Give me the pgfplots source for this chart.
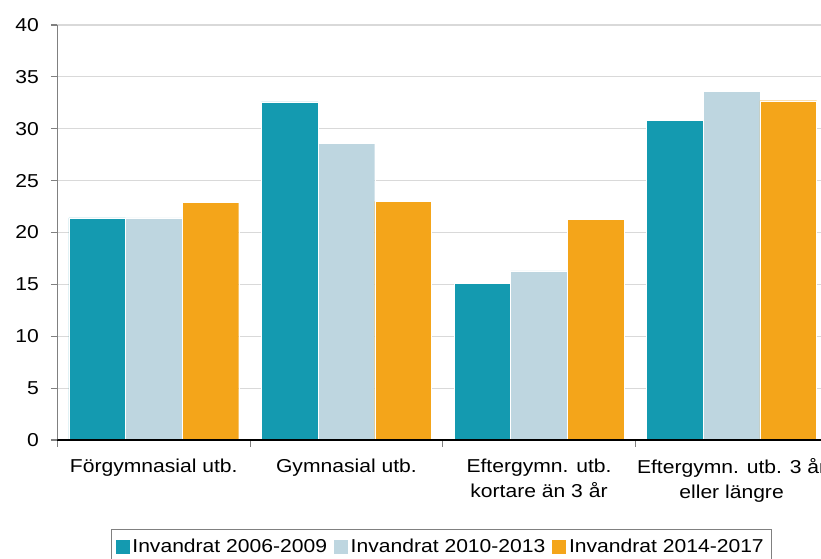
\documentclass[border=0pt]{standalone}
\usepackage{fontspec}
\setmainfont{Liberation Sans}[FakeStretch=1.13]
\usepackage{pgfplots}
\pgfplotsset{compat=1.18}
\definecolor{cteal}{RGB}{20,154,176}
\definecolor{clight}{RGB}{190,214,224}
\definecolor{corange}{RGB}{244,165,26}
\definecolor{cgrid}{RGB}{217,217,217}
\definecolor{caxis}{RGB}{128,128,128}
\newcommand{\lbl}{\fontsize{14}{18.75}\selectfont}
\begin{document}
\begin{tikzpicture}
\begin{axis}[
  at={(0pt,0pt)}, anchor=south west,
  scale only axis, width=577.8pt, height=311.25pt,
  xmin=-0.5, xmax=3.5, ymin=0, ymax=40,
  axis lines*=left,
  x axis line style={black, line width=0.9pt},
  y axis line style={caxis, line width=1.3pt},
  ytick={0,5,...,40},
  xtick={-0.5,0.5,1.5,2.5,3.5},
  xticklabels={},
  extra x ticks={0,1,2,3},
  extra x tick labels={Förgymnasial utb., Gymnasial utb., Eftergymn. utb.\\kortare än 3 år, Eftergymn. utb. 3 år\\eller längre},
  extra x tick style={major tick length=0pt, xticklabel style={align=center, yshift=-10.5pt}},
  tick align=outside,
  major tick length=5pt,
  every major x tick/.append style={caxis, line width=0.8pt},
  every major y tick/.append style={caxis, line width=0.9pt},
  ymajorgrids,
  grid style={cgrid, line width=0.8pt},
  /pgf/number format/assume math mode=true,
  ticklabel style={font=\lbl},
  yticklabel style={xshift=-5.5pt},
  legend style={at={(0.06944,-0.2145)}, anchor=north west, draw=caxis, line width=0.8pt,
    legend columns=3, font=\lbl, inner xsep=3pt, inner ysep=6pt,
    nodes={inner xsep=2.6pt, inner ysep=1pt},
    /tikz/every even column/.append style={column sep=2.5pt}},
]
\addplot[ybar, bar width=0.294, bar shift=-0.294, fill=cteal, draw=white, line width=0.3pt,
  legend image code/.code={\fill[cteal] (0pt,-4.9pt) rectangle (9.75pt,4.9pt);}]
  coordinates {(0,21.4) (1,32.6) (2,15.1) (3,30.8)};
\addplot[ybar, bar width=0.294, bar shift=0, fill=clight, draw=white, line width=0.3pt,
  legend image code/.code={\fill[clight] (0pt,-4.9pt) rectangle (9.75pt,4.9pt);}]
  coordinates {(0,21.4) (1,28.6) (2,16.3) (3,33.6)};
\addplot[ybar, bar width=0.294, bar shift=0.294, fill=corange, draw=white, line width=0.3pt,
  legend image code/.code={\fill[corange] (0pt,-4.9pt) rectangle (9.75pt,4.9pt);}]
  coordinates {(0,22.9) (1,23.0) (2,21.3) (3,32.7)};
\legend{Invandrat 2006-2009, Invandrat 2010-2013, Invandrat 2014-2017}
\draw[black, line width=0.9pt] (axis cs:-0.5,0) -- (axis cs:3.5,0);
\end{axis}
\pgfresetboundingbox
\useasboundingbox (-43.125pt,-89.25pt) rectangle (572.625pt,330pt);
\end{tikzpicture}
\end{document}
